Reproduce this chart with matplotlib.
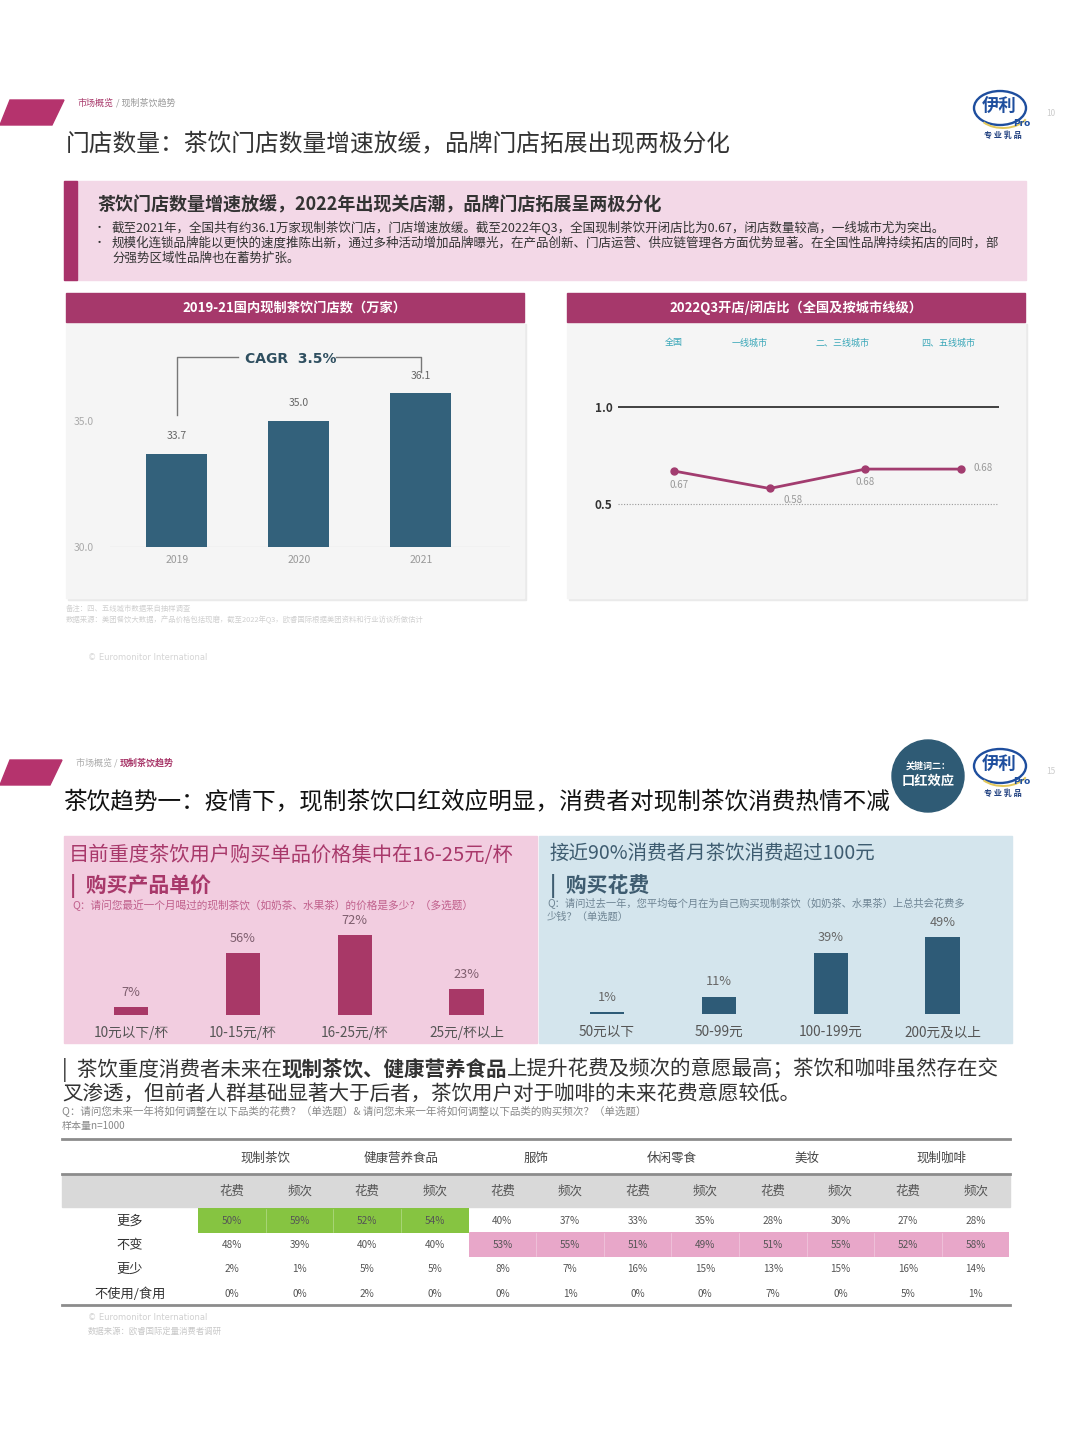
import matplotlib
matplotlib.use('Agg')
import matplotlib.pyplot as plt
from matplotlib.patches import Rectangle, Polygon, Circle, Ellipse, Arc

plt.rcParams['font.family'] = ['Noto Sans CJK SC', 'DejaVu Sans']

# ---------------- data ----------------
years = ['2019', '2020', '2021']
stores = [33.7, 35.0, 36.1]
cagr_label = 'CAGR  3.5%'

city_tiers = ['全国', '一线城市', '二、三线城市', '四、五线城市']
open_close_ratio = [0.67, 0.58, 0.68, 0.68]

price_bins = ['10元以下/杯', '10-15元/杯', '16-25元/杯', '25元/杯以上']
price_share = [7, 56, 72, 23]

spend_bins = ['50元以下', '50-99元', '100-199元', '200元及以上']
spend_share = [1, 11, 39, 49]

table_categories = ['现制茶饮', '健康营养食品', '服饰', '休闲零食', '美妆', '现制咖啡']
table_subcols = ['花费', '频次']
table_rows = ['更多', '不变', '更少', '不使用/食用']
row_more = [50, 59, 52, 54, 40, 37, 33, 35, 28, 30, 27, 28]
row_same = [48, 39, 40, 40, 53, 55, 51, 49, 51, 55, 52, 58]
row_less = [2, 1, 5, 5, 8, 7, 16, 15, 13, 15, 16, 14]
row_none = [0, 0, 2, 0, 0, 1, 0, 0, 7, 0, 5, 1]

# ---------------- figure ----------------
W, H = 1080, 1440
fig = plt.figure(figsize=(10.8, 14.4), dpi=100)
fig.patch.set_facecolor('white')
bg = fig.add_axes([0, 0, 1, 1])
bg.set_xlim(0, W)
bg.set_ylim(H, 0)
bg.axis('off')


def ax_at(x0, y0, x1, y1):
    a = fig.add_axes([x0 / W, 1 - y1 / H, (x1 - x0) / W, (y1 - y0) / H])
    a.set_facecolor('none')
    return a


MAG = '#A8386A'
TEAL = '#33617B'


def logo(cx, cy):
    bg.add_patch(Ellipse((cx, cy), 52, 34, fill=False, ec='#1E4E9E', lw=1.7))
    bg.add_patch(Arc((cx + 3, cy + 3), 52, 34, theta1=20, theta2=150, ec='#E3C85A', lw=1.4))
    bg.text(cx - 1, cy - 1, '伊利', color='#1E4E9E', fontsize=12.5, fontweight='bold',
            ha='center', va='center')
    bg.text(cx + 22, cy + 15, 'Pro', color='#1E4E9E', fontsize=6.5, fontweight='bold',
            ha='center', va='center', family='DejaVu Sans')
    bg.text(cx + 3, cy + 27, '专 业 乳 品', color='#1E3E7E', fontsize=5.8, fontweight='bold',
            ha='center', va='center')


# ================= TOP SLIDE =================
bg.add_patch(Polygon([(10, 100), (64, 100), (52, 125), (0, 125)], closed=True, color='#B5336D'))
t1 = bg.text(78, 103, '市场概览', color=MAG, fontsize=6.5, va='center')
bg.annotate(' / 现制茶饮趋势', xy=(1, 0.5), xycoords=t1, va='center', ha='left',
            color='#999999', fontsize=6.5)
logo(1000, 108)
bg.text(1051, 113, '10', color='#cccccc', fontsize=6, ha='center', va='center')
bg.text(66, 145, '门店数量：茶饮门店数量增速放缓，品牌门店拓展出现两极分化', color='#333333',
        fontsize=17.1, va='center')

# info box
bg.add_patch(Rectangle((64, 181), 962, 99, color='#F3D8E7'))
bg.add_patch(Rectangle((64, 181), 13, 99, color='#A8326A'))
bg.text(98, 205, '茶饮门店数量增速放缓，2022年出现关店潮，品牌门店拓展呈两极分化', color='#333333',
        fontsize=13, fontweight='bold', va='center')
bullets = [
    (228, '截至2021年，全国共有约36.1万家现制茶饮门店，门店增速放缓。截至2022年Q3，全国现制茶饮开闭店比为0.67，闭店数量较高，一线城市尤为突出。', True),
    (243, '规模化连锁品牌能以更快的速度推陈出新，通过多种活动增加品牌曝光，在产品创新、门店运营、供应链管理各方面优势显著。在全国性品牌持续拓店的同时，部', True),
    (258, '分强势区域性品牌也在蓄势扩张。', False),
]
for y, s, dot in bullets:
    if dot:
        bg.text(99, y, '•', color='#333333', fontsize=8, va='center', ha='center')
    bg.text(112, y, s, color='#333333', fontsize=9.0, va='center')

# panels
for x0 in (66, 567):
    bg.add_patch(Rectangle((x0 + 2, 324), 458, 276, color='#EAEAEA'))
    bg.add_patch(Rectangle((x0, 322), 458, 276, color='#F5F5F5'))
    bg.add_patch(Rectangle((x0, 293), 458, 29, color='#A6386B'))
bg.text(294, 308, '2019-21国内现制茶饮门店数（万家）', color='white', fontsize=9.5,
        fontweight='bold', ha='center', va='center')
bg.text(796, 308, '2022Q3开店/闭店比（全国及按城市线级）', color='white', fontsize=9.5,
        fontweight='bold', ha='center', va='center')

# left bar chart
axb = ax_at(110, 340, 510, 547)
xs = list(range(len(years)))
axb.bar(xs, stores, width=0.5, color=TEAL, zorder=3)
axb.set_xlim(-0.549, 2.73)
axb.set_ylim(30, 30 + 207 / 25.2)
for sp in axb.spines.values():
    sp.set_visible(False)
axb.axhline(30, color='#E2E2E2', lw=1, zorder=1)
axb.set_yticks([30, 35])
axb.set_yticklabels(['30.0', '35.0'], color='#AAAAAA', fontsize=7.5)
axb.set_xticks(xs)
axb.set_xticklabels(years, color='#999999', fontsize=7.5)
axb.tick_params(length=0, pad=6)
axb.tick_params(axis='y', pad=12)
for i, v in enumerate(stores):
    axb.annotate(f'{v:.1f}', xy=(i, v), xytext=(0, 9), textcoords='offset points',
                 ha='center', va='bottom', color='#666666', fontsize=7.5)
top_y = max(stores) + 1.45
axb.plot([0, 0, 0.5], [stores[0] + 1.55, top_y, top_y], color='#777777', lw=1, clip_on=False)
axb.plot([1.3, 2, 2], [top_y, top_y, stores[2] + 0.85], color='#777777', lw=1, clip_on=False)
axb.text(0.93, top_y - 0.1, cagr_label, color='#2F4F60', fontsize=10, fontweight='bold',
         ha='center', va='center', family='DejaVu Sans')

# right line chart
axl = ax_at(618, 380, 999, 530)
xi = list(range(len(city_tiers)))
axl.set_xlim(-0.585, 3.397)
axl.set_ylim(0.5 - 26 / 194, 1.0 + 27 / 194)
for sp in axl.spines.values():
    sp.set_visible(False)
axl.axhline(1.0, color='#333333', lw=1.3)
axl.axhline(0.5, color='#999999', lw=0.8, ls=(0, (1, 1.5)))
axl.plot(xi, open_close_ratio, color='#A23C6F', lw=2, marker='o', ms=5, zorder=3)
axl.set_xticks([])
axl.set_yticks([0.5, 1.0])
axl.set_yticklabels(['0.5', '1.0'], fontsize=8.5, fontweight='bold', color='#333333')
axl.tick_params(length=0, pad=4)
offs = [(4, -10), (17, -8), (0, -9), (16, 1)]
for i, v in enumerate(open_close_ratio):
    axl.annotate(f'{v:.2f}', xy=(i, v), xytext=offs[i], textcoords='offset points',
                 ha='center', va='center', color='#999999', fontsize=7)
lab_shift = [0, -0.21, -0.24, -0.13]
for i, name in enumerate(city_tiers):
    bg.text(674 + (i + lab_shift[i]) * 95.67, 343, name, color='#3AA7B8', fontsize=6.5,
            ha='center', va='center')

# notes
bg.text(66, 609, '备注：四、五线城市数据来自抽样调查', color='#D0D0D0', fontsize=5.3, va='center')
bg.text(66, 620, '数据来源：美团餐饮大数据，产品价格包括现磨，截至2022年Q3，欧睿国际根据美团资料和行业访谈所做估计',
        color='#D0D0D0', fontsize=5.3, va='center')
bg.text(88, 658, '© Euromonitor International', color='#D5D5D5', fontsize=6, va='center',
        family='DejaVu Sans')

# ================= BOTTOM SLIDE =================
bg.add_patch(Polygon([(10, 760), (62, 760), (50, 785), (0, 785)], closed=True, color='#B5336D'))
t2 = bg.text(76, 763, '市场概览 / ', color='#AAAAAA', fontsize=6.5, va='center')
bg.annotate('现制茶饮趋势', xy=(1, 0.5), xycoords=t2, va='center', ha='left',
            color=MAG, fontsize=6.5, fontweight='bold')
bg.text(63, 802, '茶饮趋势一：疫情下，现制茶饮口红效应明显，消费者对现制茶饮消费热情不减',
        color='#111111', fontsize=17.0, va='center')
bg.add_patch(Circle((928, 776), 36, color='#2F5B75', zorder=5))
bg.text(928, 766, '关键词二：', color='white', fontsize=6.5, fontweight='bold', ha='center',
        va='center', zorder=6)
bg.text(928, 781, '口红效应', color='white', fontsize=9.5, fontweight='bold', ha='center',
        va='center', zorder=6)
logo(1000, 766)
bg.text(1051, 772, '15', color='#cccccc', fontsize=6, ha='center', va='center')

# pink panel
bg.add_patch(Rectangle((64, 836), 473, 207, color='#F2CDE0'))
bg.text(69, 856, '目前重度茶饮用户购买单品价格集中在16-25元/杯', color=MAG, fontsize=14.6, va='center')
bg.text(70, 886, '|  购买产品单价', color=MAG, fontsize=15, fontweight='bold', va='center')
bg.text(72, 905, 'Q：请问您最近一个月喝过的现制茶饮（如奶茶、水果茶）的价格是多少？（多选题）',
        color='#C0608C', fontsize=7.7, va='center')
axp = ax_at(75, 925, 525, 1015)
px = list(range(len(price_bins)))
axp.bar(px, price_share, width=0.31, color='#A83867')
axp.set_xlim(-0.5, 3.52)
axp.set_ylim(0, 90 / 1.11)
for sp in axp.spines.values():
    sp.set_visible(False)
axp.set_yticks([])
axp.set_xticks(px)
axp.set_xticklabels(price_bins, fontsize=9.8, color='#555555')
axp.tick_params(length=0, pad=8)
for i, v in enumerate(price_share):
    axp.annotate(f'{v}%', xy=(i, v), xytext=(0, 6), textcoords='offset points', ha='center',
                 va='bottom', color='#7E5E6E', fontsize=9.2)

# blue panel
bg.add_patch(Rectangle((539, 836), 473, 207, color='#D4E5ED'))
bg.text(549, 853, '接近90%消费者月茶饮消费超过100元', color='#3E5C70', fontsize=14.0, va='center')
bg.text(550, 886, '|  购买花费', color='#3E5C70', fontsize=15, fontweight='bold', va='center')
bg.text(547, 904, 'Q：请问过去一年，您平均每个月在为自己购买现制茶饮（如奶茶、水果茶）上总共会花费多',
        color='#6F8594', fontsize=7.4, va='center')
bg.text(547, 917, '少钱？（单选题）', color='#6F8594', fontsize=7.4, va='center')
axs = ax_at(551, 925, 1001, 1014)
sx = list(range(len(spend_bins)))
axs.bar(sx, spend_share, width=0.31, color='#2E5B77')
axs.set_xlim(-0.5, 3.52)
axs.set_ylim(0, 89 / 1.57)
for sp in axs.spines.values():
    sp.set_visible(False)
axs.set_yticks([])
axs.set_xticks(sx)
axs.set_xticklabels(spend_bins, fontsize=9.8, color='#555555')
axs.tick_params(length=0, pad=8)
for i, v in enumerate(spend_share):
    axs.annotate(f'{v}%', xy=(i, v), xytext=(0, 6), textcoords='offset points', ha='center',
                 va='bottom', color='#666666', fontsize=9.2)

# paragraph with bold segments
segs = [('|  茶饮重度消费者未来在', 'normal'), ('现制茶饮、健康营养食品', 'bold'),
        ('上提升花费及频次的意愿最高；茶饮和咖啡虽然存在交', 'normal')]
prev = bg.text(62, 1070, segs[0][0], color='#333333', fontsize=14.8, va='center', fontweight=segs[0][1])
for s, w in segs[1:]:
    prev = bg.annotate(s, xy=(1, 0.5), xycoords=prev, va='center', ha='left', color='#333333',
                       fontsize=14.8, fontweight=w)
bg.text(62, 1094, '叉渗透，但前者人群基础显著大于后者，茶饮用户对于咖啡的未来花费意愿较低。',
        color='#333333', fontsize=14.8, va='center')
bg.text(62, 1112, 'Q：请问您未来一年将如何调整在以下品类的花费？（单选题）& 请问您未来一年将如何调整以下品类的购买频次？（单选题）',
        color='#888888', fontsize=7.6, va='center')
bg.text(62, 1126, '样本量n=1000', color='#888888', fontsize=7.2, va='center')

# table
rows = [row_more, row_same, row_less, row_none]
ncol = len(row_more)
cx = [232 + i * 67.6 for i in range(ncol)]
row_y = [1221, 1245, 1269, 1294]
row_h = 24.5
bg.add_patch(Rectangle((62, 1175), 948, 32, color='#D9D9D9'))
# highlight the dominant answer in each column
for j in range(ncol):
    col = [r[j] for r in rows]
    k = col.index(max(col))
    c = '#86C441' if k == 0 else '#E8A7C9'
    bg.add_patch(Rectangle((cx[j] - 33.8, row_y[k] - row_h / 2 - 0.5), 67.6, row_h, color=c, lw=0))
    bg.plot([cx[j] + 33.8] * 2, [row_y[k] - row_h / 2, row_y[k] + row_h / 2 - 1],
            color='white', lw=0.4, alpha=0.5)
for y in (1139, 1174, 1305):
    bg.plot([62, 1010], [y, y], color='#8C8C8C', lw=2)
for i, cat in enumerate(table_categories):
    bg.text((cx[2 * i] + cx[2 * i + 1]) / 2, 1158, cat, color='#444444', fontsize=9,
            ha='center', va='center')
for j in range(ncol):
    bg.text(cx[j], 1191, table_subcols[j % 2], color='#555555', fontsize=9, ha='center', va='center')
for r, (name, vals) in enumerate(zip(table_rows, rows)):
    bg.text(130, row_y[r], name, color='#333333', fontsize=9.5, ha='center', va='center')
    for j, v in enumerate(vals):
        bg.text(cx[j], row_y[r], f'{v}%', color='#555555', fontsize=7.2, ha='center', va='center')
bg.text(88, 1317, '© Euromonitor International', color='#D0D0D0', fontsize=6, va='center',
        family='DejaVu Sans')
bg.text(88, 1331, '数据来源：欧睿国际定量消费者调研', color='#C8C8C8', fontsize=6, va='center')

fig.savefig('out.png', dpi=100, facecolor='white')
